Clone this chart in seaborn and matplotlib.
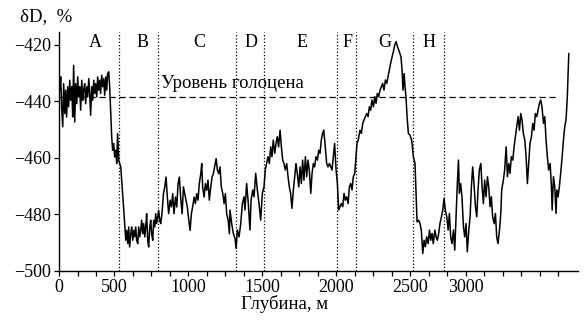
import numpy as np
import pandas as pd
import seaborn as sns
import matplotlib.pyplot as plt

# ось x - равномерная шкала делений (1 деление = 1), подписи - глубина, м
pos_1 = [0.04, 0.09, 0.14, 0.20, 0.25, 0.31, 0.36, 0.41, 0.47, 0.52, 0.58, 0.63, 0.69, 0.74, 0.79,
         0.85, 0.90, 0.96, 1.01, 1.06, 1.12, 1.17, 1.23, 1.28, 1.33, 1.39, 1.44, 1.50, 1.55, 1.61,
         1.66, 1.71, 1.77, 1.82, 1.88, 1.93, 1.98, 2.04, 2.09, 2.15, 2.20, 2.25, 2.31, 2.36, 2.42,
         2.47, 2.53, 2.58, 2.63, 2.69, 2.74, 2.80, 2.85, 2.90, 2.96, 3.01, 3.07, 3.12, 3.17, 3.23,
         3.28, 3.34, 3.39, 3.46, 3.54, 3.61, 3.66, 3.72, 3.77, 3.82, 3.88, 3.93, 3.99, 4.04, 4.09,
         4.15, 4.20, 4.26, 4.31, 4.37, 4.42, 4.47, 4.53, 4.58, 4.64, 4.69, 4.74, 4.80, 4.85, 4.91,
         4.96, 5.01, 5.07, 5.12, 5.18, 5.23, 5.28, 5.34, 5.39, 5.45, 5.50, 5.57, 5.65, 5.72, 5.79,
         5.86, 5.93, 6.01, 6.08, 6.15, 6.22, 6.30, 6.37, 6.44, 6.51, 6.58, 6.66, 6.73, 6.80, 6.87,
         6.94, 7.02, 7.09, 7.16, 7.23, 7.31, 7.38, 7.45, 7.52, 7.59, 7.67, 7.72, 7.77, 7.85, 7.92,
         7.99, 8.06, 8.13, 8.21, 8.28, 8.35, 8.42, 8.50, 8.57, 8.64, 8.71, 8.78, 8.86, 8.93, 9.00,
         9.07, 9.15, 9.22]
dD_1 = [-436.0, -431.3, -441.9, -449.0, -433.7, -444.3, -436.0, -445.5, -434.8, -441.9, -432.5, -439.6,
        -434.8, -445.5, -427.2, -447.3, -433.7, -440.8, -431.3, -438.4, -434.8, -443.1, -432.5, -439.6,
        -436.0, -433.7, -440.8, -434.8, -438.4, -431.9, -437.2, -444.9, -434.8, -439.6, -432.5, -437.2,
        -433.7, -438.4, -431.3, -436.0, -432.5, -437.2, -430.7, -434.8, -431.9, -437.8, -431.3, -436.0,
        -430.1, -429.5, -434.8, -444.3, -452.6, -457.3, -454.9, -459.7, -457.3, -462.0, -451.4, -460.9,
        -462.0, -463.2, -467.9, -475.0, -482.1, -489.2, -485.7, -490.4, -484.5, -491.6, -486.9, -484.5,
        -489.2, -485.7, -488.0, -484.5, -489.2, -490.4, -484.5, -488.0, -485.7, -482.1, -486.9, -483.3,
        -488.0, -484.5, -479.8, -489.2, -491.6, -484.5, -482.1, -486.9, -489.2, -482.1, -484.5, -479.8,
        -483.3, -480.9, -478.6, -482.1, -483.3, -479.8, -472.7, -470.3, -466.8, -473.9, -479.8, -475.0,
        -477.4, -472.7, -479.8, -473.9, -477.4, -469.1, -466.8, -473.9, -479.8, -470.3, -472.7, -475.0,
        -477.4, -482.1, -485.7, -479.8, -477.4, -473.9, -476.2, -472.7, -475.0, -469.1, -465.6, -462.0,
        -470.3, -473.9, -469.1, -471.5, -467.9, -475.0, -470.3, -466.8, -465.6, -463.2, -460.3, -464.4,
        -465.6, -463.2, -470.3, -472.7, -476.2, -472.7, -479.8, -482.1, -486.9]

pos_2 = [9.25, 9.34, 9.43, 9.52, 9.58, 9.65, 9.74, 9.83, 9.92, 10.01, 10.06, 10.15, 10.24, 10.33, 10.39,
         10.48, 10.55, 10.64, 10.73, 10.82, 10.91, 11.00, 11.09, 11.16, 11.23, 11.31, 11.38, 11.45, 11.52,
         11.59, 11.67, 11.74, 11.81, 11.88, 11.96, 12.03, 12.10, 12.17, 12.24, 12.32, 12.39, 12.46, 12.53,
         12.60, 12.68, 12.75, 12.82, 12.89, 12.97, 13.04, 13.11, 13.18, 13.25, 13.33, 13.40, 13.47, 13.54,
         13.62, 13.69, 13.76, 13.83, 13.90, 13.98, 14.05, 14.12, 14.19, 14.26, 14.32, 14.39, 14.48, 14.55,
         14.63, 14.70, 14.77, 14.84, 14.91, 14.99, 15.06, 15.13, 15.20, 15.27, 15.35, 15.42, 15.49, 15.56,
         15.64, 15.71, 15.78, 15.85, 15.92, 16.00, 16.07, 16.12, 16.19, 16.28, 16.36, 16.43, 16.50, 16.57,
         16.65, 16.72, 16.79, 16.86, 16.93, 17.01, 17.08, 17.15, 17.22, 17.29, 17.37, 17.44, 17.51, 17.58,
         17.66, 17.73, 17.80, 17.87, 17.94, 18.02, 18.09, 18.16, 18.24, 18.31, 18.38]
dD_2 = [-478.5, -483.3, -486.8, -488.6, -492.1, -485.6, -488.0, -483.3, -476.2, -473.8, -478.5, -469.1,
        -476.2, -485.6, -475.0, -471.4, -473.8, -465.5, -471.4, -476.2, -482.1, -472.6, -470.3, -464.3,
        -462.0, -459.6, -462.0, -456.1, -459.6, -453.7, -458.4, -454.9, -452.5, -456.1, -450.2, -456.1,
        -460.8, -462.0, -464.3, -462.0, -466.7, -470.3, -472.6, -477.9, -471.4, -466.7, -462.0, -465.5,
        -470.3, -463.2, -469.1, -460.8, -467.9, -459.6, -466.7, -460.8, -464.3, -472.6, -465.5, -462.0,
        -463.2, -459.6, -460.8, -457.3, -458.4, -453.7, -451.3, -450.2, -454.9, -462.0, -463.2, -462.0,
        -463.2, -464.3, -459.6, -454.9, -464.3, -469.1, -478.5, -477.3, -476.2, -477.3, -472.6, -475.0,
        -473.8, -476.2, -470.3, -469.1, -471.4, -466.7, -465.5, -459.6, -454.9, -453.7, -450.2, -451.3,
        -447.8, -446.6, -445.4, -444.3, -445.4, -441.9, -443.1, -439.5, -441.9, -438.3, -440.7, -437.2,
        -438.3, -436.0, -434.8, -433.6, -436.0, -432.4, -433.6, -431.2, -428.9, -426.5, -424.2, -422.4,
        -420.0, -418.8, -420.6, -421.8]

pos_3 = [18.50, 18.56, 18.61, 18.67, 18.72, 18.77, 18.83, 18.90, 18.99, 19.08, 19.17, 19.26, 19.32, 19.37,
         19.46, 19.53, 19.60, 19.68, 19.75, 19.82, 19.89, 19.97, 20.04, 20.11, 20.18, 20.25, 20.33, 20.40,
         20.47, 20.54, 20.61, 20.69, 20.76, 20.83, 20.90, 20.98, 21.05, 21.12, 21.19, 21.26, 21.34, 21.41,
         21.48, 21.55, 21.61, 21.66, 21.73, 21.80, 21.88, 21.95, 22.02, 22.09, 22.17, 22.24, 22.31, 22.38,
         22.45, 22.53, 22.60, 22.67, 22.74, 22.82, 22.89, 22.96, 23.03, 23.10, 23.18, 23.25, 23.32, 23.39,
         23.46, 23.54, 23.61, 23.68, 23.75, 23.83, 23.90, 23.95, 24.04, 24.11, 24.19, 24.26, 24.33, 24.40,
         24.47, 24.55, 24.62, 24.69, 24.76, 24.84, 24.91, 24.98, 25.05, 25.12, 25.20, 25.27, 25.34, 25.41,
         25.48, 25.56, 25.63, 25.70, 25.77, 25.85, 25.92, 25.99, 26.06, 26.13, 26.21, 26.28, 26.35, 26.42,
         26.49, 26.57, 26.64, 26.68, 26.75, 26.82, 26.89, 26.93, 27.00, 27.07, 27.14, 27.22, 27.29, 27.36,
         27.43, 27.50, 27.58]
dD_3 = [-424.2, -428.9, -436.0, -430.1, -434.8, -438.3, -445.4, -451.3, -452.0, -453.7, -459.6, -462.0,
        -473.8, -482.7, -482.1, -483.3, -485.6, -493.9, -489.2, -491.5, -488.0, -490.4, -485.6, -489.2,
        -486.8, -490.4, -485.6, -488.0, -489.2, -486.8, -483.3, -480.9, -478.5, -474.4, -478.5, -480.9,
        -485.6, -479.7, -488.0, -490.4, -485.6, -492.7, -480.9, -469.1, -460.8, -472.6, -469.1, -473.8,
        -484.4, -488.0, -483.3, -493.3, -485.6, -480.9, -470.3, -463.2, -469.1, -477.3, -480.9, -471.4,
        -464.3, -462.0, -470.3, -476.2, -467.9, -473.8, -466.7, -470.3, -477.3, -473.8, -480.9, -483.3,
        -479.7, -488.0, -490.4, -485.6, -479.7, -471.4, -467.9, -464.3, -456.1, -466.7, -462.0, -465.5,
        -459.6, -460.8, -456.1, -452.5, -449.0, -445.4, -450.2, -444.3, -446.6, -451.3, -453.7, -459.6,
        -469.1, -462.0, -454.9, -452.5, -447.8, -450.2, -444.3, -445.4, -443.1, -440.7, -439.5, -441.9,
        -447.8, -445.4, -453.7, -459.6, -464.3, -462.0, -470.3, -478.5, -466.7, -470.3, -479.7, -471.4,
        -473.8, -470.3, -465.5, -459.6, -453.7, -449.0, -446.6, -438.3, -423.0]

depth_ticks = [0, 3, 7, 11, 15, 19, 22]
depth_labels = ["0", "500", "1000", "1500", "2000", "2500", "3000"]
n_ticks = 28

zone_bounds = [3.26, 5.37, 9.56, 11.11, 15.06, 16.05, 19.17, 20.85]
zone_names = ["A", "B", "C", "D", "E", "F", "G", "H"]
zone_pos = [1.95, 4.53, 7.58, 10.37, 13.13, 15.62, 17.64, 20.02]

holocene = -438.6
holocene_end = 26.9

sns.set_theme(style="ticks", rc={"axes.edgecolor": "black", "xtick.color": "black",
                                 "ytick.color": "black", "text.color": "black",
                                 "axes.labelcolor": "black"})
plt.rcParams["font.family"] = ["Liberation Serif", "DejaVu Serif"]

df = pd.DataFrame({"pos": pos_1 + pos_2 + pos_3, "dD": dD_1 + dD_2 + dD_3})

fig = plt.figure(figsize=(5.85, 3.26), dpi=100)
ax = fig.add_axes([0.1009, 0.1696, 0.8872, 0.7322])

sns.lineplot(data=df, x="pos", y="dD", color="black", lw=1.1, sort=False, estimator=None, ax=ax)

ax.hlines(holocene, 0, holocene_end, colors="black", linestyles=(0, (5, 3)), lw=0.9)
for b in zone_bounds:
    ax.axvline(b, color="black", ls=":", lw=0.9)
for name, p in zip(zone_names, zone_pos):
    ax.text(p, -420.6, name, ha="center", va="baseline", fontsize=13)
ax.text(5.5, -435.3, "Уровень голоцена", ha="left", va="baseline", fontsize=13.5)

ax.set_xlim(0, 28.08)
ax.set_ylim(-500, -415.4)
labels = [""] * n_ticks
for t, l in zip(depth_ticks, depth_labels):
    labels[t] = l
ax.set_xticks(range(n_ticks))
ax.set_xticklabels(labels)
ax.set_yticks([-500, -480, -460, -440, -420])
ax.tick_params(direction="out", length=3.5, width=0.9, labelsize=13, pad=2.5)

sns.despine(ax=ax)
for s in ["left", "bottom"]:
    ax.spines[s].set_linewidth(1.0)

ax.set_xlabel("Глубина, м", fontsize=13.5, va="center")
ax.xaxis.set_label_coords((285 - 59) / 519, -0.14)
ax.set_ylabel("δD,  %", fontsize=13.5, rotation=0, ha="left", va="center")
ax.yaxis.set_label_coords(-0.075, 1.063)

fig.savefig("out.png", dpi=100)
